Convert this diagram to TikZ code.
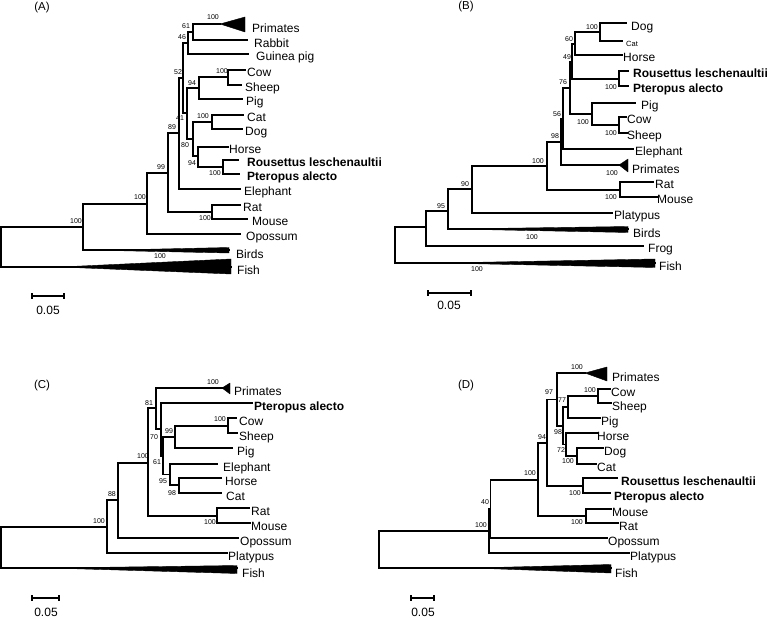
\documentclass[tikz,border=0pt]{standalone}
\usepackage{fontspec}
\setmainfont{Liberation Sans}
\tikzset{
  leaf/.style={anchor=base west, inner sep=0pt, font=\fontsize{12}{14}\selectfont},
  bleaf/.style={anchor=base west, inner sep=0pt, font=\fontsize{12}{14}\selectfont\bfseries},
  sleaf/.style={anchor=base west, inner sep=0pt, font=\fontsize{7.5}{9}\selectfont},
  bs/.style={inner sep=0pt, font=\fontsize{7}{8}\selectfont},
  plabel/.style={inner sep=0pt, font=\fontsize{11.5}{13}\selectfont},
  sbtext/.style={inner sep=0pt, font=\fontsize{12}{14}\selectfont},
  br/.style={line width=1.1pt, line cap=rect},
  wedge/.style={fill=black, draw=black, line width=0.4pt, line join=round},
}
\begin{document}
\begin{tikzpicture}[x=1pt,y=-1pt]
\useasboundingbox (0,0) rectangle (771,620);
\fill[white] (0,0) rectangle (771,620);

%%%%%%%%%%%%%%%% PANEL A %%%%%%%%%%%%%%%%
\node[plabel] (Alab) at (42,8) {(A)};
\begin{scope}[br]
\draw (83,227) -| (1,267) -- (231,267);
\draw (147,204) -| (83,250) -- (229,250);
\draw (168,173) -| (147,234) -- (240,234);
\draw (179,133) -| (168,212) -- (212,212);
\draw (183,78) -| (179,189) -- (240,189);
\draw (188,43) -| (183,113) -- (187,113);
\draw (193,32) -| (188,54) -- (248,54);
\draw (220,24) -| (193,40) -- (247,40);
\draw (199,88) -| (187,139) -- (193,139);
\draw (228,77) -| (199,99) -- (242,99);
\draw (245,70) -| (228,85) -- (241,85);
\draw (212,122) -| (193,156) -- (198,156);
\draw (243,115) -| (212,129) -- (242,129);
\draw (228,147) -| (198,167) -- (223,167);
\draw (238,160) -| (223,174) -- (239,174);
\draw (240,205) -| (212,219) -- (247,219);
\end{scope}
\fill[wedge] (220,24) -- (245,17) -- (245,32) -- cycle;
\fill[wedge] (100,250.3) -- (229,247.5) -- (229,253) -- cycle;
\fill[wedge] (60,267) -- (231,259) -- (231,274) -- cycle;

\node[leaf] (aPrim) at (252,32.5) {Primates};
\node[leaf] (aRab) at (254,47.5) {Rabbit};
\node[leaf] (aGp) at (256,61) {Guinea pig};
\node[leaf] (aCow) at (247,77) {Cow};
\node[leaf] (aShe) at (245,92) {Sheep};
\node[leaf] (aPig) at (246,106) {Pig};
\node[leaf] (aCat) at (247,122) {Cat};
\node[leaf] (aDog) at (245,136) {Dog};
\node[leaf] (aHor) at (229,154) {Horse};
\node[bleaf] (aRou) at (247,167) {Rousettus leschenaultii};
\node[bleaf] (aPte) at (247,181) {Pteropus alecto};
\node[leaf] (aEle) at (244,196) {Elephant};
\node[leaf] (aRat) at (243,212) {Rat};
\node[leaf] (aMou) at (252,226) {Mouse};
\node[leaf] (aOpo) at (246,241) {Opossum};
\node[leaf] (aBir) at (236,258.5) {Birds};
\node[leaf] (aFis) at (237,274.5) {Fish};

\node[bs] (ab1) at (213,17) {100};
\node[bs] (ab2) at (186,26) {61};
\node[bs] (ab3) at (182,37) {46};
\node[bs] (ab4) at (178,72) {52};
\node[bs] (ab5) at (222,71) {100};
\node[bs] (ab6) at (192,83) {94};
\node[bs] (ab7) at (203,116) {100};
\node[bs] (ab8) at (180,118) {41};
\node[bs] (ab9) at (172,127) {89};
\node[bs] (ab10) at (185,145) {80};
\node[bs] (ab11) at (192,163) {94};
\node[bs] (ab12) at (161,167) {99};
\node[bs] (ab13) at (215,173) {100};
\node[bs] (ab14) at (140,197) {100};
\node[bs] (ab15) at (205,218) {100};
\node[bs] (ab16) at (76,221) {100};
\node[bs] (ab17) at (160,256) {100};

\draw[br] (32,296) -- (64,296);
\draw[br] (32,293.5) -- (32,298.5);
\draw[br] (64,293.5) -- (64,298.5);
\node[sbtext] (asb) at (48,310) {0.05};

%%%%%%%%%%%%%%%% PANEL B %%%%%%%%%%%%%%%%
\node[plabel] (Blab) at (466,7) {(B)};
\begin{scope}[br]
\draw (426,227) -| (395,263) -- (655,263);
\draw (448,211) -| (426,246) -- (643,246);
\draw (472,189) -| (448,229) -- (628,229);
\draw (547,166) -| (472,213) -- (612,213);
\draw (561,142) -| (547,190) -- (620,190);
\draw (563,118.5) -| (561,165) -- (619,165);
\draw (570,88) -| (563,149) -- (633,149);
\draw (572,61.5) -| (570,114) -- (592,114);
\draw (575,44) -| (572,79) -- (619,79);
\draw (600,32) -| (575,55) -- (622,55);
\draw (626,23) -| (600,41) -- (622,41);
\draw (628,71) -| (619,86) -- (628,86);
\draw (635,103) -| (592,125) -- (619,125);
\draw (626,117) -| (619,133) -- (627,133);
\draw (653,182) -| (620,197) -- (657,197);
\end{scope}
\fill[wedge] (619,165) -- (628,159) -- (628,172) -- cycle;
\fill[wedge] (452,229) -- (628,226.5) -- (628,232.5) -- cycle;
\fill[wedge] (440,263) -- (655,259) -- (655,267.5) -- cycle;

\node[leaf] (bDog) at (631,30.5) {Dog};
\node[sleaf] (bCat) at (626,47) {Cat};
\node[leaf] (bHor) at (623,62) {Horse};
\node[bleaf] (bRou) at (633,78) {Rousettus leschenaultii};
\node[bleaf] (bPte) at (633,93) {Pteropus alecto};
\node[leaf] (bPig) at (641,110) {Pig};
\node[leaf] (bCow) at (627,124) {Cow};
\node[leaf] (bShe) at (627,140) {Sheep};
\node[leaf] (bEle) at (635,156) {Elephant};
\node[leaf] (bPri) at (632,173.5) {Primates};
\node[leaf] (bRat) at (655,189) {Rat};
\node[leaf] (bMou) at (657,204) {Mouse};
\node[leaf] (bPla) at (614,220) {Platypus};
\node[leaf] (bBir) at (633,237.5) {Birds};
\node[leaf] (bFro) at (648,253) {Frog};
\node[leaf] (bFis) at (659,270.5) {Fish};

\node[bs] (bb1) at (592,27) {100};
\node[bs] (bb2) at (569,39) {60};
\node[bs] (bb3) at (567,57) {49};
\node[bs] (bb4) at (611,87) {100};
\node[bs] (bb5) at (563,82) {76};
\node[bs] (bb6) at (583,122) {100};
\node[bs] (bb7) at (611,133) {100};
\node[bs] (bb8) at (557,114) {56};
\node[bs] (bb9) at (555,136) {98};
\node[bs] (bb10) at (538,161) {100};
\node[bs] (bb11) at (612,173) {100};
\node[bs] (bb12) at (611,197) {100};
\node[bs] (bb13) at (465,184) {90};
\node[bs] (bb14) at (441,206) {95};
\node[bs] (bb15) at (532,237) {100};
\node[bs] (bb16) at (477,269) {100};

\draw[br] (428,293) -- (471,293);
\draw[br] (428,290.5) -- (428,295.5);
\draw[br] (471,290.5) -- (471,295.5);
\node[sbtext] (bsb) at (449,305) {0.05};

%%%%%%%%%%%%%%%% PANEL C %%%%%%%%%%%%%%%%
\node[plabel] (Clab) at (42,386) {(C)};
\begin{scope}[br]
\draw (107,527) -| (1,568) -- (237,568);
\draw (118,500) -| (107,553) -- (227,553);
\draw (148,463) -| (118,538) -- (238,538);
\draw (156,408) -| (148,516) -- (217,516);
\draw (222,388) -| (156,429) -- (161,429);
\draw (252,403) -| (161,456) -- (163,456);
\draw (175,437) -| (163,474.5) -- (170,474.5);
\draw (228,426) -| (175,448) -- (232,448);
\draw (236,418) -| (228,433) -- (237,433);
\draw (217,464) -| (170,485) -- (179,485);
\draw (221,478) -| (179,493) -- (221,493);
\draw (249,508) -| (217,523) -- (250,523);
\end{scope}
\fill[wedge] (222,388) -- (230,383) -- (230,394) -- cycle;
\fill[wedge] (50,568) -- (237,565.5) -- (237,573.5) -- cycle;

\node[leaf] (cPri) at (234,395.5) {Primates};
\node[bleaf] (cPte) at (254,410) {Pteropus alecto};
\node[leaf] (cCow) at (239,425) {Cow};
\node[leaf] (cShe) at (239,440) {Sheep};
\node[leaf] (cPig) at (237,455) {Pig};
\node[leaf] (cEle) at (223,471) {Elephant};
\node[leaf] (cHor) at (225,485) {Horse};
\node[leaf] (cCat) at (226,500) {Cat};
\node[leaf] (cRat) at (251,515) {Rat};
\node[leaf] (cMou) at (251,530) {Mouse};
\node[leaf] (cOpo) at (240,545) {Opossum};
\node[leaf] (cPla) at (228,560) {Platypus};
\node[leaf] (cFis) at (242,577.5) {Fish};

\node[bs] (cb1) at (213,382) {100};
\node[bs] (cb2) at (149,403) {81};
\node[bs] (cb3) at (154,437) {70};
\node[bs] (cb4) at (169,431) {99};
\node[bs] (cb5) at (220,419) {100};
\node[bs] (cb6) at (157,462) {61};
\node[bs] (cb7) at (163,481) {95};
\node[bs] (cb8) at (172,493) {98};
\node[bs] (cb9) at (143,456) {100};
\node[bs] (cb10) at (210,522) {100};
\node[bs] (cb11) at (112,494) {88};
\node[bs] (cb12) at (99,521) {100};

\draw[br] (32,598) -- (59,598);
\draw[br] (32,595.5) -- (32,600.5);
\draw[br] (59,595.5) -- (59,600.5);
\node[sbtext] (csb) at (46,612) {0.05};

%%%%%%%%%%%%%%%% PANEL D %%%%%%%%%%%%%%%%
\node[plabel] (Dlab) at (466,386) {(D)};
\begin{scope}[br]
\draw (489,531) -| (379,568) -- (611,568);
\draw (490.5,509) -| (489,553) -- (629,553);
\draw (538,480) -| (490.5,538) -- (607,538);
\draw (547,443) -| (538,516) -- (586,516);
\draw (557,399.5) -| (547,486) -- (583,486);
\draw (585,373) -| (557,426) -- (563,426);
\draw (568,407) -| (563,444.5) -- (566,444.5);
\draw (598,396) -| (568,418) -- (600,418);
\draw (610,389) -| (598,403) -- (611,403);
\draw (597,433) -| (566,456) -- (577,456);
\draw (603,448) -| (577,464) -- (596,464);
\draw (617,478) -| (583,493) -- (610,493);
\draw (611,509) -| (586,523) -- (618,523);
\end{scope}
\fill[wedge] (585,373) -- (607,367) -- (607,381) -- cycle;
\fill[wedge] (472,568) -- (611,564.5) -- (611,573) -- cycle;

\node[leaf] (dPri) at (612,381.5) {Primates};
\node[leaf] (dCow) at (611,396) {Cow};
\node[leaf] (dShe) at (612,410) {Sheep};
\node[leaf] (dPig) at (601,425) {Pig};
\node[leaf] (dHor) at (597,440) {Horse};
\node[leaf] (dDog) at (604,455) {Dog};
\node[leaf] (dCat) at (597,471) {Cat};
\node[bleaf] (dRou) at (621,485) {Rousettus leschenaultii};
\node[bleaf] (dPte) at (614,500) {Pteropus alecto};
\node[leaf] (dMou) at (612,516) {Mouse};
\node[leaf] (dRat) at (619,530) {Rat};
\node[leaf] (dOpo) at (608,545) {Opossum};
\node[leaf] (dPla) at (630,560) {Platypus};
\node[leaf] (dFis) at (615,577.5) {Fish};

\node[bs] (db1) at (577,367) {100};
\node[bs] (db2) at (549,392) {97};
\node[bs] (db3) at (562,400) {77};
\node[bs] (db4) at (590,390) {100};
\node[bs] (db5) at (558,432) {98};
\node[bs] (db6) at (561,450) {72};
\node[bs] (db7) at (568,461) {100};
\node[bs] (db8) at (542,437) {94};
\node[bs] (db9) at (575,493) {100};
\node[bs] (db10) at (530,473) {100};
\node[bs] (db11) at (577,522) {100};
\node[bs] (db12) at (485,502) {40};
\node[bs] (db13) at (481,525) {100};

\draw[br] (411,598) -- (434,598);
\draw[br] (411,595.5) -- (411,600.5);
\draw[br] (434,595.5) -- (434,600.5);
\node[sbtext] (dsb) at (423,612) {0.05};
\end{tikzpicture}
\end{document}
